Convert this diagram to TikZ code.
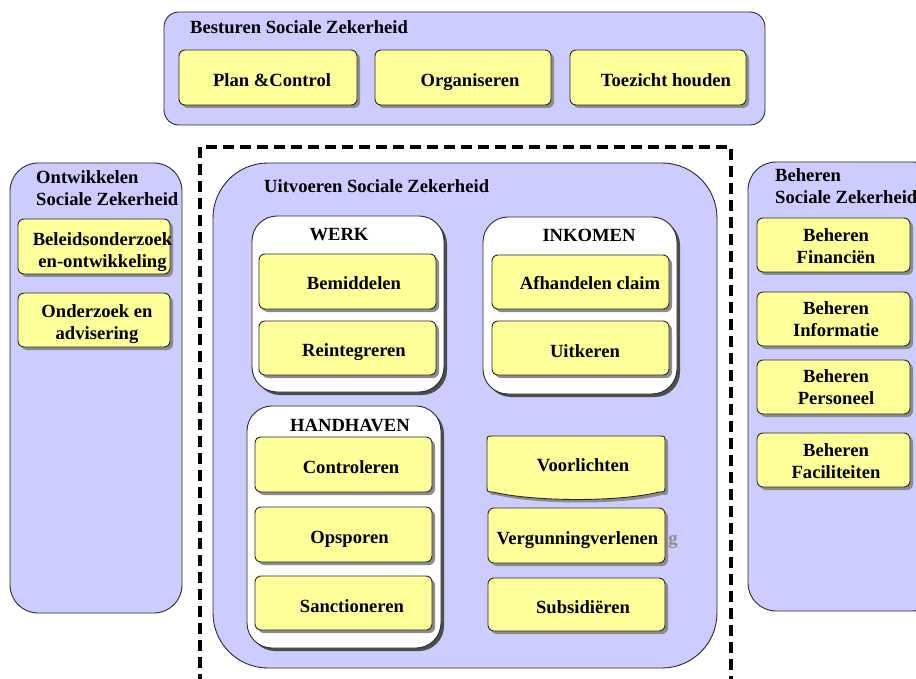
\documentclass[tikz,border=0pt]{standalone}
\usepackage{fontspec}
\setmainfont{Liberation Serif}
\usetikzlibrary{shadows}

\definecolor{lav}{HTML}{CCCCFF}
\definecolor{ylw}{HTML}{FFFF99}
\definecolor{edge}{HTML}{2A2A2A}

\tikzset{
  lbl/.style={inner sep=0pt, font=\bfseries\fontsize{18.6}{22}\selectfont, align=center},
  lanebox/.style={draw=edge, fill=lav, line width=0.9pt},
  groupbox/.style={draw=edge, fill=white, line width=0.9pt, rounded corners=25pt,
    drop shadow={shadow xshift=3pt, shadow yshift=-3pt, fill=black!70, opacity=1}},
  taskbox/.style={draw=edge, fill=ylw, line width=0.9pt, rounded corners=6pt,
    drop shadow={shadow xshift=3pt, shadow yshift=-3pt, fill=black!45, opacity=1}},
  frame/.style={draw=black, line width=3.2pt, dash pattern=on 11pt off 6pt},
}

% rectangle node from its corners: style, name, x1, y1, x2, y2
\newcommand\boxat[6]{%
  \node[#1, inner sep=0pt, outer sep=0pt, minimum width={#5-#3}, minimum height={#6-#4}]
    (#2) at ({(#3+#5)/2},{(#4+#6)/2}) {};}

\begin{document}
\begin{tikzpicture}[x=1pt, y=-1pt]
\useasboundingbox (0,0) rectangle (916,679);
\clip (0,0) rectangle (916,679);

% --- Besturen ---
\boxat{lanebox, rounded corners=15pt}{besturen}{164}{12}{765}{125}
\node[lbl, anchor=base west] (t-besturen) at (190,34) {Besturen Sociale Zekerheid};
\boxat{taskbox}{plan}{179}{50}{357}{105}
\boxat{taskbox}{org}{375}{50}{551}{105}
\boxat{taskbox}{toez}{570}{50}{746}{105}
\node[lbl, anchor=base] (t-plan) at (272,86.5) {Plan \&Control};
\node[lbl, anchor=base] (t-org) at (470,86.5) {Organiseren};
\node[lbl, anchor=base] (t-toez) at (666,86.5) {Toezicht houden};

% --- Ontwikkelen ---
\boxat{lanebox, rounded corners=28pt}{ontw}{10}{163}{182}{613}
\node[lbl, anchor=west, align=left] (t-ontw) at (36,188) {Ontwikkelen\\Sociale Zekerheid};
\boxat{taskbox}{beleid}{18}{219}{170}{274}
\boxat{taskbox}{onderz}{18}{293}{170}{347}
\node[lbl] (t-beleid) at (102.5,252.6) {Beleidsonderzoek\\en-ontwikkeling};
\node[lbl] (t-onderz) at (97,323.6) {Onderzoek en\\advisering};

% --- Beheren ---
\boxat{lanebox, rounded corners=28pt}{beheer}{748}{162}{940}{611}
\node[lbl, anchor=west, align=left] (t-beheer) at (775,186.6) {Beheren\\Sociale Zekerheid};
\boxat{taskbox}{fin}{757}{218}{910}{272}
\boxat{taskbox}{inf}{757}{292}{910}{346}
\boxat{taskbox}{pers}{757}{360}{910}{414}
\boxat{taskbox}{fac}{757}{433}{910}{487}
\node[lbl] (t-fin) at (836,246.6) {Beheren\\Financiën};
\node[lbl] (t-inf) at (836,319.6) {Beheren\\Informatie};
\node[lbl] (t-pers) at (836,387.6) {Beheren\\Personeel};
\node[lbl] (t-fac) at (836,461.6) {Beheren\\Faciliteiten};

% --- Uitvoeren ---
\boxat{frame}{scope}{200}{147}{731}{700}
\boxat{lanebox, rounded corners=55pt}{uitv}{213}{163}{717}{668}
\node[lbl, anchor=base west] (t-uitv) at (264,193) {Uitvoeren Sociale Zekerheid};

% WERK
\boxat{groupbox}{werk}{252}{216}{444}{392}
\node[lbl, anchor=base] (t-werk) at (339,241) {WERK};
\boxat{taskbox}{bemid}{259}{254}{436}{309}
\boxat{taskbox}{reint}{259}{321}{436}{375}
\node[lbl, anchor=base] (t-bemid) at (354,290) {Bemiddelen};
\node[lbl, anchor=base] (t-reint) at (354,356) {Reintegreren};

% INKOMEN
\boxat{groupbox}{inkom}{483}{217}{677}{394}
\node[lbl, anchor=base] (t-inkom) at (589,242) {INKOMEN};
\boxat{taskbox}{afh}{492}{255}{669}{309}
\boxat{taskbox}{uitk}{492}{321}{669}{375}
\node[lbl, anchor=base] (t-afh) at (590,290) {Afhandelen claim};
\node[lbl, anchor=base] (t-uitk) at (585,357) {Uitkeren};

% HANDHAVEN
\boxat{groupbox}{handh}{247}{406}{441}{648}
\node[lbl, anchor=base] (t-handh) at (350,431) {HANDHAVEN};
\boxat{taskbox}{contr}{255}{437}{432}{492}
\boxat{taskbox}{opsp}{255}{507}{432}{562}
\boxat{taskbox}{sanct}{255}{576}{432}{630}
\node[lbl, anchor=base] (t-contr) at (351,473) {Controleren};
\node[lbl, anchor=base] (t-opsp) at (349.5,543) {Opsporen};
\node[lbl, anchor=base] (t-sanct) at (352,612) {Sanctioneren};

% loose tasks
\path[draw=edge, fill=ylw, line width=0.9pt,
  drop shadow={shadow xshift=3pt, shadow yshift=-3pt, fill=black!45, opacity=1}]
  (487,442) .. controls (487,436) .. (493,436) -- (659,436)
  .. controls (665,436) .. (665,442) -- (665,486)
  .. controls (665,492) .. (659,492)
  .. controls (620,502) and (535,502) .. (493,492)
  .. controls (487,492) .. (487,486) -- cycle;
\node[lbl, anchor=base] (t-voorl) at (583,471) {Voorlichten};
\node[lbl, anchor=base, text=black!45] (t-ghost) at (673,544) {g};
\boxat{taskbox}{verg}{488}{508}{665}{563}
\boxat{taskbox}{subs}{488}{578}{665}{631}
\node[lbl, anchor=base] (t-verg) at (577.5,544) {Vergunningverlenen};
\node[lbl, anchor=base] (t-subs) at (583,613) {Subsidiëren};
\end{tikzpicture}
\end{document}
